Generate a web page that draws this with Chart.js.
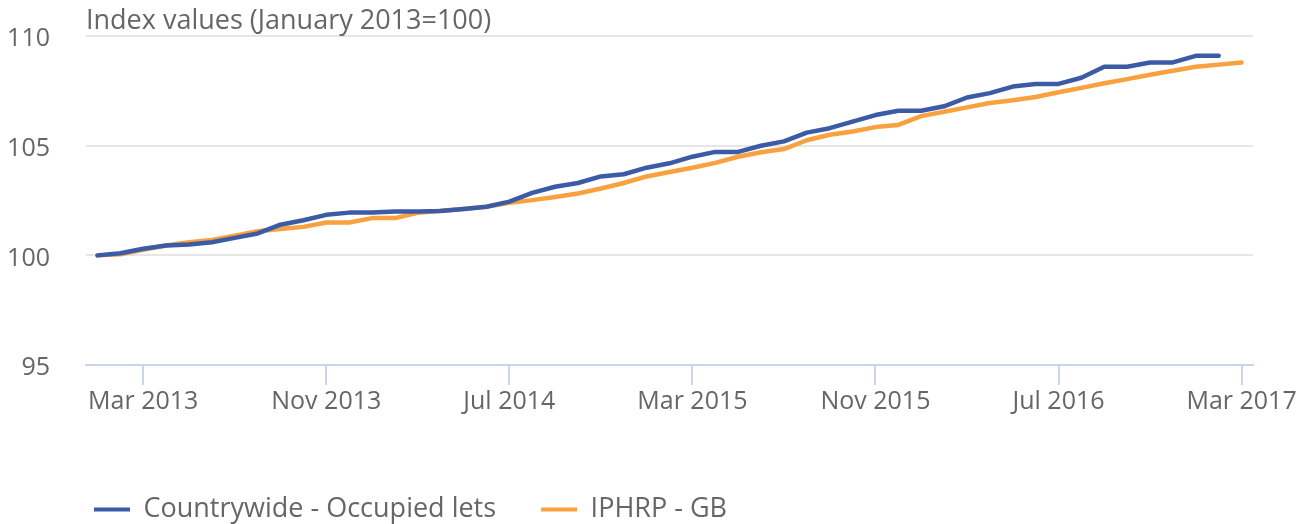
<!DOCTYPE html>
<html>
<head>
<meta charset="utf-8">
<script src="https://cdn.jsdelivr.net/npm/chart.js@4"></script>
<style>
  html, body { margin: 0; padding: 0; background: #fff; }
  #wrap { width: 1307px; height: 524px; position: relative; }
</style>
</head>
<body>
<div id="wrap"><canvas id="indexChart"></canvas></div>
<script>
const months = [
  "Jan 2013", "Feb 2013", "Mar 2013", "Apr 2013", "May 2013", "Jun 2013", "Jul 2013", "Aug 2013", "Sep 2013", "Oct 2013", "Nov 2013", "Dec 2013",
  "Jan 2014", "Feb 2014", "Mar 2014", "Apr 2014", "May 2014", "Jun 2014", "Jul 2014", "Aug 2014", "Sep 2014", "Oct 2014", "Nov 2014", "Dec 2014",
  "Jan 2015", "Feb 2015", "Mar 2015", "Apr 2015", "May 2015", "Jun 2015", "Jul 2015", "Aug 2015", "Sep 2015", "Oct 2015", "Nov 2015", "Dec 2015",
  "Jan 2016", "Feb 2016", "Mar 2016", "Apr 2016", "May 2016", "Jun 2016", "Jul 2016", "Aug 2016", "Sep 2016", "Oct 2016", "Nov 2016", "Dec 2016",
  "Jan 2017", "Feb 2017", "Mar 2017"
];
const tickLabels = ["Mar 2013", "Nov 2013", "Jul 2014", "Mar 2015", "Nov 2015", "Jul 2016", "Mar 2017"];

// Countrywide ends Feb 2017
const countrywide = [
  100.0, 100.1, 100.3, 100.45, 100.5, 100.6, 100.8, 101.0, 101.4, 101.6, 101.85, 101.95,
  101.95, 102.0, 102.0, 102.02, 102.12, 102.22, 102.45, 102.85, 103.13, 103.3, 103.6, 103.7,
  104.0, 104.2, 104.5, 104.72, 104.72, 105.0, 105.2, 105.6, 105.8, 106.1, 106.4, 106.6,
  106.6, 106.8, 107.2, 107.4, 107.7, 107.82, 107.82, 108.1, 108.6, 108.6, 108.8, 108.8,
  109.1, 109.1
];
const iphrp = [
  100.0, 100.05, 100.25, 100.45, 100.6, 100.7, 100.9, 101.1, 101.2, 101.3, 101.5, 101.5,
  101.7, 101.7, 101.94, 102.04, 102.12, 102.22, 102.4, 102.52, 102.66, 102.82, 103.05, 103.3,
  103.6, 103.8, 104.0, 104.22, 104.5, 104.7, 104.85, 105.25, 105.5, 105.65, 105.85, 105.95,
  106.35, 106.55, 106.75, 106.95, 107.08, 107.22, 107.44, 107.64, 107.85, 108.04, 108.24, 108.42,
  108.6, 108.7, 108.8
];

const textColor = "#666666";
const fontFamily = "'Open Sans', sans-serif";

const titlePlugin = {
  id: "indexTitle",
  afterLayout(chart) {
    // push the legend right so it starts under the plot, not at the canvas edge
    chart.legend.left += 49;
    chart.legend.right += 49;
  },
  afterDraw(chart) {
    const c = chart.ctx;
    c.save();
    c.font = "27px " + fontFamily;
    c.fillStyle = textColor;
    c.textAlign = "left";
    c.textBaseline = "alphabetic";
    c.fillText("Index values (January 2013=100)", chart.chartArea.left, 29);
    c.restore();
  }
};

const ctx = document.getElementById("indexChart");
new Chart(ctx, {
  type: "line",
  data: {
    labels: months,
    datasets: [
      {
        label: "Countrywide - Occupied lets",
        data: countrywide,
        borderColor: "#3c5ba6",
        backgroundColor: "#3c5ba6",
        borderWidth: 4.5,
        pointRadius: 0,
        tension: 0,
        borderCapStyle: "round",
        borderJoinStyle: "round",
      },
      {
        label: "IPHRP - GB",
        data: iphrp,
        borderColor: "#f8a13e",
        backgroundColor: "#f8a13e",
        borderWidth: 4.5,
        pointRadius: 0,
        tension: 0,
        borderCapStyle: "round",
        borderJoinStyle: "round",
      },
    ],
  },
  options: {
    responsive: true,
    maintainAspectRatio: false,
    animation: false,
    layout: { padding: { top: 36, left: 0, right: 54, bottom: -9 } },
    plugins: {
      tooltip: { enabled: false },
      legend: {
        position: "bottom",
        align: "start",
        labels: {
          boxWidth: 36,
          boxHeight: 4,
          padding: 45,
          color: textColor,
          font: { family: fontFamily, size: 27 },
          generateLabels(chart) {
            return Chart.defaults.plugins.legend.labels.generateLabels(chart)
              .map((l) => Object.assign(l, { lineWidth: 0 }));
          },
        },
      },
    },
    scales: {
      x: {
        offset: true,
        afterFit(scale) { scale.height = 86; },
        grid: {
          drawOnChartArea: false,
          drawTicks: true,
          tickLength: 20,
          color: "#ccd6eb",
          lineWidth: 2,
        },
        border: { color: "#ccd6eb", width: 2 },
        ticks: {
          autoSkip: false,
          maxRotation: 0,
          padding: 2,
          color: textColor,
          font: { family: fontFamily, size: 25 },
          callback(value) {
            const lab = this.getLabelForValue(value);
            return tickLabels.includes(lab) ? lab : null;
          },
        },
      },
      y: {
        min: 95,
        max: 110,
        afterFit(scale) { scale.width = 86; },
        grid: { color: "#e6e6e6", lineWidth: 2, drawTicks: false },
        border: { display: false },
        ticks: {
          stepSize: 5,
          padding: 36,
          labelOffset: 3,
          color: textColor,
          // tiny line height so the label padding doesn't push the plot down
          font: { family: fontFamily, size: 25, lineHeight: 0.01 },
        },
      },
    },
  },
  plugins: [titlePlugin],
});
</script>
</body>
</html>
